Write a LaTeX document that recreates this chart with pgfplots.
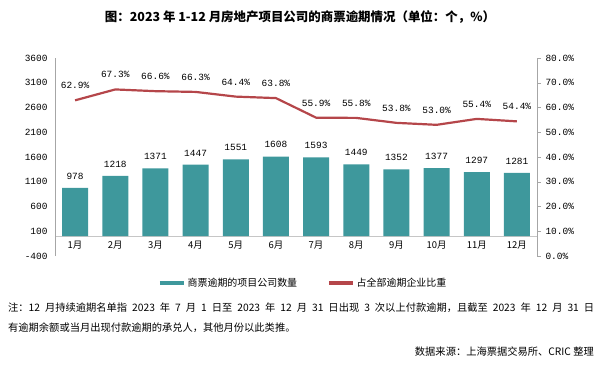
\documentclass[border=0pt]{standalone}
\usepackage{pgfplots}
\pgfplotsset{compat=1.18}
\usepackage{pgfplotstable}
\usepackage{fontspec}
\setmainfont{Noto Sans CJK SC}
\newfontfamily\monof{Liberation Mono}
\definecolor{barc}{HTML}{3E989C}
\definecolor{linec}{HTML}{B5464A}
\pgfkeys{/pgf/number format/1000 sep={}}
\pgfplotstableread{
x cnt pct
0 978 62.9
1 1218 67.3
2 1371 66.6
3 1447 66.3
4 1551 64.4
5 1608 63.8
6 1593 55.9
7 1449 55.8
8 1352 53.8
9 1377 53.0
10 1297 55.4
11 1281 54.4
}\data
\begin{document}
\begin{tikzpicture}[x=1bp,y=1bp]
\useasboundingbox (0,0) rectangle (600,386);
\node[font=\fontsize{12.5}{14}\selectfont\bfseries] at (300,369) {图：2023 年 1-12 月房地产项目公司的商票逾期情况（单位：个，\%）};
\begin{axis}[at={(55bp,130bp)}, anchor=south west, width=482bp, height=198bp, scale only axis,
  xmin=-0.5, xmax=11.5, ymin=-400, ymax=3600,
  ytick={-400,100,...,3600},
  axis x line*=middle, axis y line*=left,
  x axis line style={draw=gray!45},
  y axis line style={draw=gray!70},
  major tick length=0pt,
  xtick=data, xticklabels={1月,2月,3月,4月,5月,6月,7月,8月,9月,10月,11月,12月},
  xticklabel style={font=\fontsize{9.5}{11}\selectfont, yshift=-1bp},
  yticklabel style={font=\monof\fontsize{9.5}{11}\selectfont, xshift=-4bp},
  /pgf/number format/assume math mode=true,
  scaled y ticks=false,
  yticklabel={\pgfmathprintnumber[int detect, 1000 sep={}]{\tick}},
  ]
\addplot[ybar, bar width=26bp, fill=barc, draw=none,
  nodes near coords={\pgfmathprintnumber[int detect, 1000 sep={}]{\pgfplotspointmeta}},
  nodes near coords style={font=\monof\fontsize{9.5}{11}\selectfont, yshift=5bp, text=black},
  point meta=explicit] table[x=x, y=cnt, meta=cnt] {\data};
\end{axis}
\begin{axis}[at={(55bp,130bp)}, anchor=south west, width=482bp, height=198bp, scale only axis,
  xmin=-0.5, xmax=11.5, ymin=0, ymax=80,
  ytick={0,10,...,80},
  axis x line=none, axis y line*=right,
  y axis line style={draw=gray!70},
  ytick style={draw=gray!70},
  tick align=outside, major tick length=4bp,
  yticklabel style={font=\monof\fontsize{9.5}{11}\selectfont, xshift=1bp},
  /pgf/number format/assume math mode=true,
  yticklabel={\pgfmathprintnumber[fixed, fixed zerofill, precision=1]{\tick}\%},
  legend style={at={(0.515,-0.136)}, anchor=center, draw=none, fill=none,
    font=\fontsize{10}{12}\selectfont, legend columns=2,
    /tikz/every even column/.append style={column sep=28bp}},
  legend image code/.code={\draw[#1, line width=3.5bp] (0bp,0bp) -- (24bp,0bp);},
  ]
\addlegendimage{barc}
\addlegendentry{商票逾期的项目公司数量}
\addplot[linec, line width=2.2bp, no marks,
  nodes near coords={\pgfmathprintnumber[fixed, fixed zerofill, precision=1]{\pgfplotspointmeta}\%},
  nodes near coords style={font=\monof\fontsize{9.5}{11}\selectfont, yshift=7bp, text=black},
  point meta=explicit] table[x=x, y=pct, meta=pct] {\data};
\addlegendentry{占全部逾期企业比重}
\end{axis}
\node[anchor=west, font=\fontsize{10.3}{12}\selectfont, inner xsep=0pt] at (8,78) {\makebox[586bp][s]{注：12 月持续逾期名单指 2023 年 7 月 1 日至 2023 年 12 月 31 日出现 3 次以上付款逾期，且截至 2023 年 12 月 31 日}};
\node[anchor=west, font=\fontsize{10.3}{12}\selectfont, inner xsep=0pt] at (8,58) {有逾期余额或当月出现付款逾期的承兑人，其他月份以此类推。};
\node[anchor=east, font=\fontsize{10.3}{12}\selectfont, inner xsep=0pt] at (594,34) {数据来源：上海票据交易所、CRIC 整理};
\end{tikzpicture}
\end{document}
